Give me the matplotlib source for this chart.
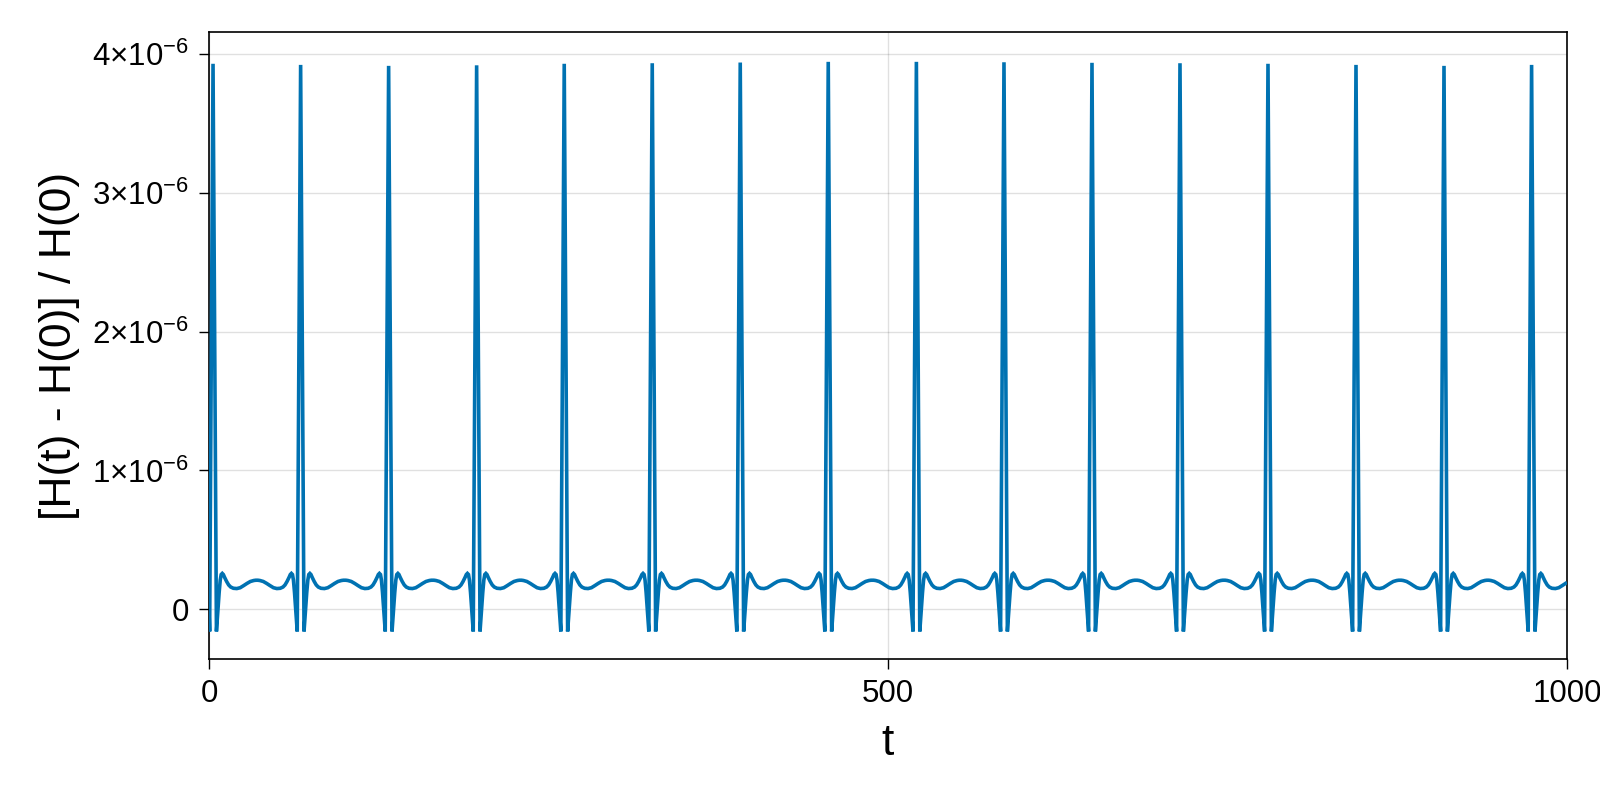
import numpy as np
import matplotlib
matplotlib.use("Agg")
import matplotlib.pyplot as plt

# ---- data ----
spike_times = [3.0, 67.5, 132.3, 197.1, 261.6, 326.4, 391.2, 456.0,
               520.9, 585.4, 650.2, 715.0, 779.8, 844.6, 909.4, 973.9]
spike_peaks = [3.930, 3.922, 3.915, 3.919, 3.930, 3.934, 3.939, 3.944,
               3.944, 3.941, 3.937, 3.934, 3.930, 3.922, 3.915, 3.922]  # x1e-6
# half-period shape of the curve after each spike (offset in t, value x1e-6)
profile_offsets = [2.5, 3.5, 4.5, 5.3, 6.0, 6.8, 7.6, 8.5, 10.0, 11.5,
                   13.0, 15.0, 17.5, 20.0, 22.5, 25.0, 27.5, 30.0, 31.5]
profile_values = [-0.16, -0.02, 0.12, 0.21, 0.25, 0.258, 0.25, 0.23, 0.20, 0.175,
                  0.16, 0.151, 0.149, 0.155, 0.17, 0.186, 0.20, 0.207, 0.209]
start_t, start_v = 0.0, 0.0

xticks = [0, 500, 1000]
yticks = [0, 1e-6, 2e-6, 3e-6, 4e-6]
ytick_labels = ["0", r"$1{\times}10^{-6}$", r"$2{\times}10^{-6}$",
                r"$3{\times}10^{-6}$", r"$4{\times}10^{-6}$"]

# ---- assemble the series from the read values ----
ts, vs = [start_t], [start_v]
pts = []
for tk, pk in zip(spike_times, spike_peaks):
    for o, v in zip(profile_offsets[::-1], profile_values[::-1]):
        pts.append((tk - o, v))
    pts.append((tk, pk))
    for o, v in zip(profile_offsets, profile_values):
        pts.append((tk + o, v))
pts = sorted(p for p in pts if 0 < p[0] <= 1000)
ts += [p[0] for p in pts]
vs += [p[1] for p in pts]
ts = np.array(ts)
vs = np.array(vs) * 1e-6

# ---- styling ----
plt.rcParams["font.family"] = ["Liberation Sans", "DejaVu Sans"]
plt.rcParams["mathtext.fontset"] = "custom"
plt.rcParams["mathtext.rm"] = "Liberation Sans"
plt.rcParams["mathtext.it"] = "Liberation Sans:italic"
plt.rcParams["mathtext.bf"] = "Liberation Sans:bold"

fig = plt.figure(figsize=(16, 8), dpi=100)
ax = fig.add_axes([0.1306, 0.176, 0.9794 - 0.1306, 0.96 - 0.176])

ax.plot(ts, vs, color="#0072B2", lw=2.6, solid_joinstyle="miter", zorder=3)

ax.set_xlim(0, 1000)
ax.set_ylim(-0.36e-6, 4.159e-6)
ax.set_xticks(xticks)
ax.set_xticklabels([str(x) for x in xticks])
ax.set_yticks(yticks)
ax.set_yticklabels(ytick_labels)

ax.grid(True, color="black", alpha=0.12, lw=1.0, zorder=0)
for s in ax.spines.values():
    s.set_linewidth(1.2)
    s.set_color("black")
ax.tick_params(axis="both", direction="out", length=7.5, width=1.0,
               labelsize=22.5, pad=7)

ax.set_xlabel("t", fontsize=32, labelpad=10)
ax.set_ylabel("[H(t) - H(0)] / H(0)", fontsize=32, labelpad=9)

fig.savefig("out.png", dpi=100)
